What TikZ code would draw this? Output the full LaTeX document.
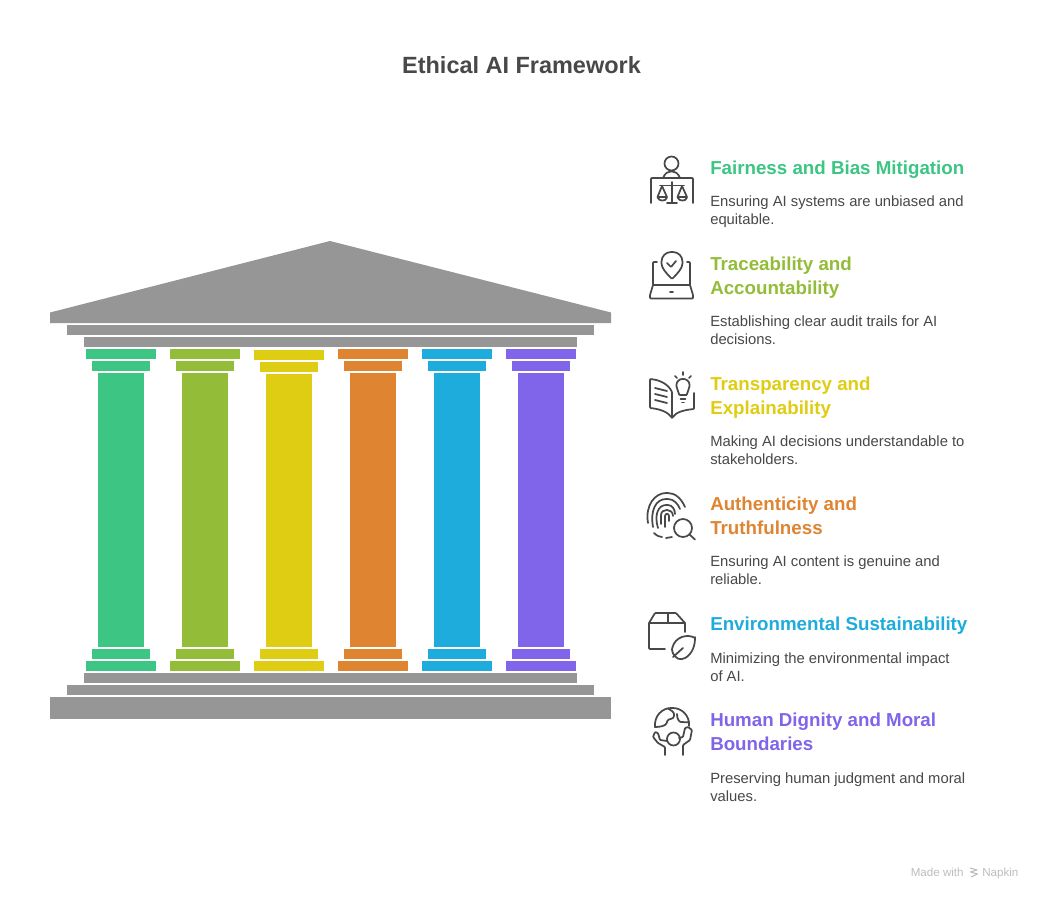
\documentclass[tikz,border=0pt]{standalone}
\usepackage{fontspec}
\setmainfont{Liberation Sans}
\definecolor{ink}{HTML}{484848}
\definecolor{stone}{HTML}{969696}
\definecolor{pgreen}{HTML}{3CC583}
\definecolor{polive}{HTML}{93BD39}
\definecolor{pyellow}{HTML}{DFCD13}
\definecolor{porange}{HTML}{DF8431}
\definecolor{pblue}{HTML}{1DACDC}
\definecolor{ppurple}{HTML}{8064EA}
\definecolor{faint}{HTML}{BDBDBD}

\begin{document}
\begin{tikzpicture}[
  x=0.75pt, y=-0.75pt,
  headtxt/.style={anchor=north west, inner sep=0pt, align=left,
                  font=\fontsize{14.05}{18}\selectfont\bfseries},
  desctxt/.style={anchor=north west, inner sep=0pt, align=left, text=ink,
                  font=\fontsize{11.1}{13.5}\selectfont},
  icon/.style={draw=ink, line width=1.3pt, line cap=round, line join=round, rounded corners=0.6pt},
  footnote/.style={anchor=base west, inner sep=0pt, text=faint, font=\fontsize{8.7}{10}\selectfont},
]
\useasboundingbox (0,0) rectangle (1043,900);
\fill[white] (0,0) rectangle (1043,900);

\node[anchor=center, inner sep=0pt, text=ink, font=\fontsize{17.6}{22}\selectfont\bfseries] (title) at (521.5,65) {Ethical AI Framework};

% temple
\fill[stone] (50,312.5) -- (330,241) -- (611,312.5) -- (611,323) -- (50,323) -- cycle;
\fill[stone] (67,325) rectangle (594,335);
\fill[stone] (84,337) rectangle (577,347);
\fill[stone] (84,673) rectangle (577,683);
\fill[stone] (67,685) rectangle (594,695);
\fill[stone] (50,697) rectangle (611,719);

% pillars
\foreach \px/\pcol/\py in {86/pgreen/0, 170/polive/0, 254/pyellow/1, 338/porange/0, 422/pblue/0, 506/ppurple/0}{
  \fill[\pcol] (\px,349+\py) rectangle +(70,10);
  \fill[\pcol] (\px+6,361+\py) rectangle +(58,10);
  \fill[\pcol] (\px+12,373+\py) rectangle (\px+58,647);
  \fill[\pcol] (\px+6,649) rectangle +(58,10);
  \fill[\pcol] (\px,661) rectangle +(70,10);
}

% texts
\node[headtxt, text=pgreen] (h1) at (710,161) {Fairness and Bias Mitigation};
\node[desctxt] (d1) at (710,196) {Ensuring AI systems are unbiased and\\equitable.};
\node[headtxt, text=polive] (h2) at (710,257) {Traceability and\\Accountability};
\node[desctxt] (d2) at (710,316) {Establishing clear audit trails for AI\\decisions.};
\node[headtxt, text=pyellow] (h3) at (710,377) {Transparency and\\Explainability};
\node[desctxt] (d3) at (710,436) {Making AI decisions understandable to\\stakeholders.};
\node[headtxt, text=porange] (h4) at (710,497) {Authenticity and\\Truthfulness};
\node[desctxt] (d4) at (710,556) {Ensuring AI content is genuine and\\reliable.};
\node[headtxt, text=pblue] (h5) at (710,617) {Environmental Sustainability};
\node[desctxt] (d5) at (710,652) {Minimizing the environmental impact\\of AI.};
\node[headtxt, text=ppurple] (h6) at (710,713) {Human Dignity and Moral\\Boundaries};
\node[desctxt] (d6) at (710,772) {Preserving human judgment and moral\\values.};

% icon: judge and scales
\draw[icon] (671.5,163.5) circle (7);
\draw[icon] (663,178) .. controls (665,173) and (668,171.5) .. (671.5,171.5) .. controls (675,171.5) and (678,173) .. (680,178);
\draw[icon] (651,203) -- (651,178) -- (693,178) -- (693,203);
\draw[icon] (672,182) -- (672,203) (667,203) -- (677,203) (660,185.5) -- (684,185.5);
\draw[icon] (662,186) -- (657.5,197) .. controls (659,201.5) and (666,201.5) .. (667,197) -- cycle (657.5,197) -- (667,197);
\draw[icon] (682,186) -- (677.5,197) .. controls (679,201.5) and (686,201.5) .. (687,197) -- cycle (677.5,197) -- (687,197);

% icon: laptop and pin
\draw[icon] (672,279) .. controls (666,273) and (661.5,268) .. (661.5,262.5) .. controls (661.5,256) and (666,252) .. (672,252) .. controls (678,252) and (682.5,256) .. (682.5,262.5) .. controls (682.5,268) and (678,273) .. (672,279) -- cycle;
\draw[icon] (667,263) -- (671,267) -- (676,261);
\draw[icon] (657,262) -- (653,262) -- (653,285) -- (690,285) -- (690,262) -- (687,262);
\draw[icon] (653,285) -- (650,295) -- (650,298.5) -- (693,298.5) -- (693,295) -- (690,285);
\draw[icon] (670,292) -- (673,292);

% icon: book and bulb
\draw[icon] (672,418) -- (672,392) .. controls (668,384) and (660,380) .. (650,379) -- (650,408) .. controls (660,409) and (668,412) .. (672,418) .. controls (676,412) and (684,410) .. (694,409) -- (694,393);
\draw[icon] (655,388) -- (667,391) (655,394) -- (667,397) (655,400) -- (667,403);
\draw[icon] (679,395) .. controls (679,391) and (676.5,390) .. (676.5,385.5) .. controls (676.5,381.5) and (679.5,379) .. (683,379) .. controls (686.5,379) and (689.5,381.5) .. (689.5,385.5) .. controls (689.5,390) and (687,391) .. (687,395) -- cycle;
\draw[icon] (680.5,399) -- (685.5,399) (682,402.5) -- (684,402.5);
\draw[icon] (683,372) -- (683,375) (675,376) -- (677,378) (691,376) -- (689,378);

% icon: fingerprint and lens
\draw[icon] (648,523) .. controls (645,505) and (655,493) .. (667,493) .. controls (675,493) and (681,498) .. (685,507);
\draw[icon] (653,527) .. controls (650,510) and (656,499) .. (667,499) .. controls (674,499) and (678,504) .. (680,509);
\draw[icon] (658,528) .. controls (654,515) and (658,505) .. (667,505) .. controls (672,505) and (675,509) .. (675,514);
\draw[icon] (661,524) -- (661,516) .. controls (661,508) and (673,508) .. (673,516);
\draw[icon] (665,527) -- (665,517) .. controls (665,513) and (669,513) .. (669,517) -- (669,521);
\draw[icon] (654,533) .. controls (657,536) and (660,537) .. (662,537) (666,538) -- (672,537);
\draw[icon] (683,528) circle (9);
\draw[icon] (689.5,534.5) -- (695,539.5);

% icon: parcel and leaf
\draw[icon] (665,649) -- (649,649) -- (649,623) -- (655,613) -- (676,613) -- (685,623) -- (685,632);
\draw[icon] (649,623) -- (685,623) (668,613) -- (668,623);
\draw[icon] (695,638) .. controls (688,634) and (675,636) .. (672,649) .. controls (672,654) and (677,660) .. (682,659) .. controls (690,657) and (695,648) .. (695,638) -- cycle;
\draw[icon] (673,657) -- (683,648);

% icon: globe and person
\draw[icon] (655,727) .. controls (654,716) and (662,708) .. (672,708) .. controls (682,708) and (690,716) .. (689,726);
\draw[icon] (655,727) .. controls (660,727) and (666,726) .. (667,722) .. controls (668,718) and (674,720) .. (674,715) .. controls (674,712) and (671,710) .. (668,708.5);
\draw[icon] (677,714) .. controls (677,719) and (679,722) .. (682,722) .. controls (684,722) and (687,723) .. (689,722);
\draw[icon] (673.5,739) circle (6.5);
\draw[icon] (665,755) -- (665,747) -- (658,743) -- (653,737) -- (655,732) -- (658,733) -- (660,740) -- (667,741);
\draw[icon] (683,755) -- (683,745) -- (690,740) -- (692,730) -- (688,727) -- (685,728) -- (683,737) -- (679,738);

% footer
\node[footnote] (made) at (910.5,876) {Made with};
\draw[faint, line width=0.8pt, line join=round] (970,868) -- (977,870) -- (970.5,872) -- (977.5,874) -- (971,877);
\node[footnote] (napkin) at (982,876) {Napkin};
\end{tikzpicture}
\end{document}
